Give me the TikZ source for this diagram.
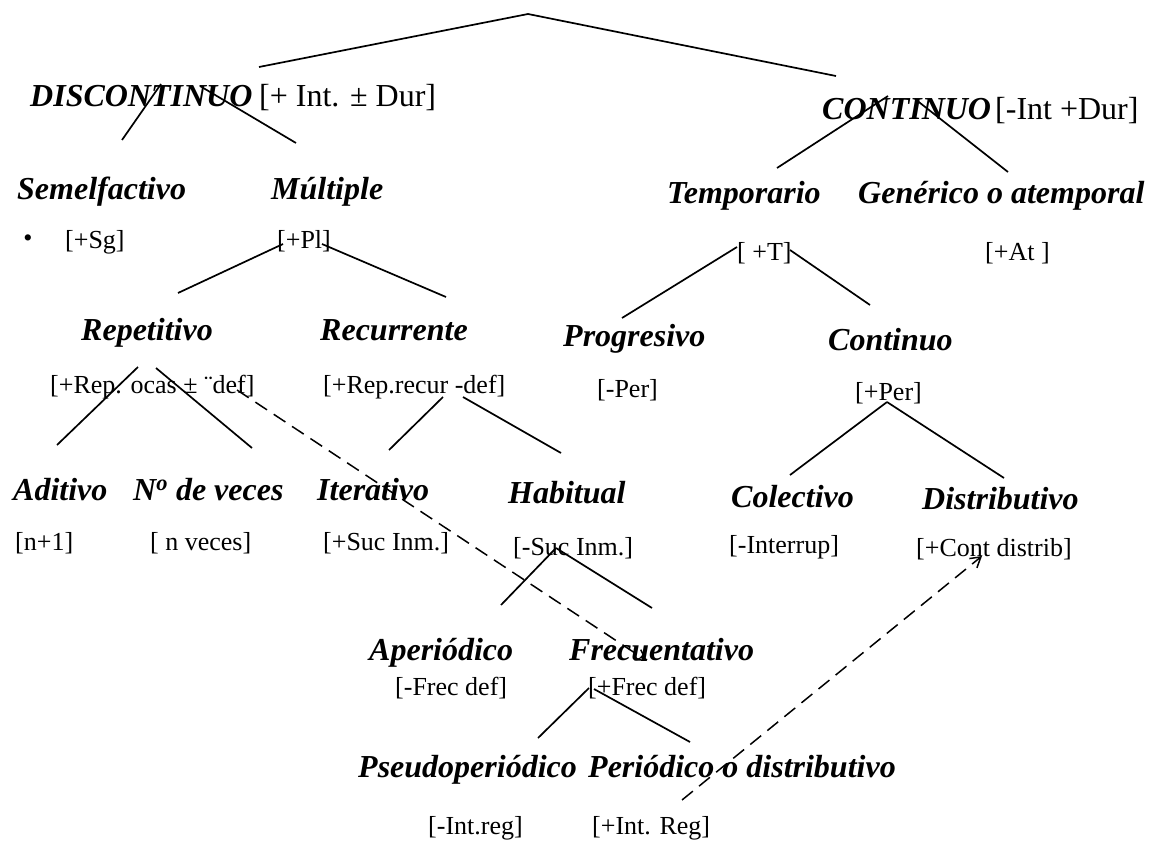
\documentclass[tikz,border=0pt]{standalone}
\usepackage{fontspec}
\setmainfont{Liberation Serif}
\usetikzlibrary{calc,arrows.meta}
\tikzset{
  kind/.style={anchor=base west, inner sep=0pt, font=\fontsize{32}{36}\selectfont\bfseries\itshape},
  head/.style={anchor=base west, inner sep=0pt, font=\fontsize{32}{36}\selectfont},
  trait/.style={anchor=base west, inner sep=0pt, font=\fontsize{26}{30}\selectfont},
  branch/.style={line width=1.7pt},
  link/.style={line width=1.5pt, dash pattern=on 14pt off 8pt, -{Straight Barb[length=10pt,width=12pt]}}
}
\begin{document}
\begin{tikzpicture}[x=1pt, y=-1pt]
    \useasboundingbox (0,0) rectangle (1159,843);
    \node[kind] (disc) at (30,106) {DISCONTINUO};
    \node[head] (discf) at (259,106) {[+ Int. ± Dur]};
    \node[kind] (cont) at (822,119) {CONTINUO};
    \node[head] (contf) at (995,119) {[-Int +Dur]};
    \node[kind] (semel) at (17,199) {Semelfactivo};
    \node[kind] (mult) at (271,199) {Múltiple};
    \node[kind] (temp) at (667,203) {Temporario};
    \node[kind] (gen) at (858,203) {Genérico o atemporal};
    \node[inner sep=0pt, font=\fontsize{26}{30}\selectfont] (dot) at (28,241) {•};
    \node[trait] (sg) at (65,248) {[+Sg]};
    \node[trait] (pl) at (277,248) {[+Pl]};
    \node[trait] (tf) at (737,260) {[ +T]};
    \node[trait] (at) at (985,260) {[+At ]};
    \node[kind] (repet) at (81,340) {Repetitivo};
    \node[kind] (recur) at (320,340) {Recurrente};
    \node[kind] (prog) at (563,346) {Progresivo};
    \node[kind] (contin) at (828,350) {Continuo};
    \node[trait] (repf) at (50,393) {[+Rep. ocas ± ¨def]};
    \node[trait] (recf) at (323,393) {[+Rep.recur -def]};
    \node[trait] (perm) at (597,397) {[-Per]};
    \node[trait] (perp) at (855,400) {[+Per]};
    \node[kind] (adit) at (13,500) {Aditivo};
    \node[kind] (veces) at (133,500) {N\textsuperscript{o} de veces};
    \node[kind] (iter) at (317,500) {Iterativo};
    \node[kind] (habit) at (508,503) {Habitual};
    \node[kind] (colec) at (731,507) {Colectivo};
    \node[kind] (distr) at (922,509) {Distributivo};
    \node[trait] (n1) at (15,550) {[n+1]};
    \node[trait] (nv) at (150,550) {[ n veces]};
    \node[trait] (sucp) at (323,550) {[+Suc Inm.]};
    \node[trait] (sucm) at (513,555) {[-Suc Inm.]};
    \node[trait] (intr) at (729,553) {[-Interrup]};
    \node[trait] (cdis) at (916,556) {[+Cont distrib]};
    \node[kind] (aper) at (369,660) {Aperiódico};
    \node[kind] (frec) at (569,660) {Frecuentativo};
    \node[trait] (frm) at (395,695) {[-Frec def]};
    \node[trait] (frp) at (588,695) {[+Frec def]};
    \node[kind] (pseudo) at (358,777) {Pseudoperiódico};
    \node[kind] (peri) at (588,777) {Periódico o distributivo};
    \node[trait] (irm) at (428,834) {[-Int.reg]};
    \node[trait] (irp) at (592,834) {[+Int. Reg]};
    \coordinate (root) at (528,14);
    \coordinate (disc-t) at (259,67);
    \coordinate (cont-t) at (836,76);
    \coordinate (semel-t) at (122,140);
    \coordinate (mult-t) at (296,143);
    \coordinate (temp-t) at (777,168);
    \coordinate (gen-t) at (1008,172);
    \coordinate (repet-t) at (178,293);
    \coordinate (recur-t) at (446,297);
    \coordinate (prog-t) at (622,318);
    \coordinate (contin-t) at (870,305);
    \coordinate (adit-t) at (57,445);
    \coordinate (veces-t) at (252,448);
    \coordinate (iter-t) at (389,450);
    \coordinate (habit-t) at (561,453);
    \coordinate (colec-t) at (790,475);
    \coordinate (distr-t) at (1004,478);
    \coordinate (aper-t) at (501,605);
    \coordinate (frec-t) at (652,608);
    \coordinate (pseudo-t) at (538,738);
    \coordinate (peri-t) at (690,742);
    \draw[branch] (disc-t) -- (root) -- (cont-t);
    \draw[branch] ($(disc.base west)+(131,-22)$) -- (semel-t);
    \draw[branch] ($(disc.base west)+(170,-20)$) -- (mult-t);
    \draw[branch] ($(cont.base west)+(66,-23)$) -- (temp-t);
    \draw[branch] ($(cont.base west)+(93,-20)$) -- (gen-t);
    \draw[branch] ($(pl.base west)+(6,-4)$) -- (repet-t);
    \draw[branch] ($(pl.base west)+(45,-4)$) -- (recur-t);
    \draw[branch] ($(tf.base west)+(0,-13)$) -- (prog-t);
    \draw[branch] ($(tf.base west)+(53,-10)$) -- (contin-t);
    \draw[branch] ($(repf.base west)+(88,-26)$) -- (adit-t);
    \draw[branch] ($(repf.base west)+(106,-25)$) -- (veces-t);
    \draw[branch] ($(recf.base west)+(120,4)$) -- (iter-t);
    \draw[branch] ($(recf.base west)+(140,4)$) -- (habit-t);
    \draw[branch] ($(perp.base west)+(32,2)$) -- (colec-t);
    \draw[branch] ($(perp.base west)+(32,2)$) -- (distr-t);
    \draw[branch] ($(sucm.base west)+(43,-7)$) -- (aper-t);
    \draw[branch] ($(sucm.base west)+(43,-7)$) -- (frec-t);
    \draw[branch] ($(frp.base west)+(1,-7)$) -- (pseudo-t);
    \draw[branch] ($(frp.base west)+(6,-6)$) -- (peri-t);
    \draw[link] ($(repf.base west)+(187,-3)$) -- ($(frec.base west)+(78,1)$);
    \draw[link] ($(peri.base west)+(94,23)$) -- ($(cdis.base west)+(66,0)$);
\end{tikzpicture}
\end{document}
